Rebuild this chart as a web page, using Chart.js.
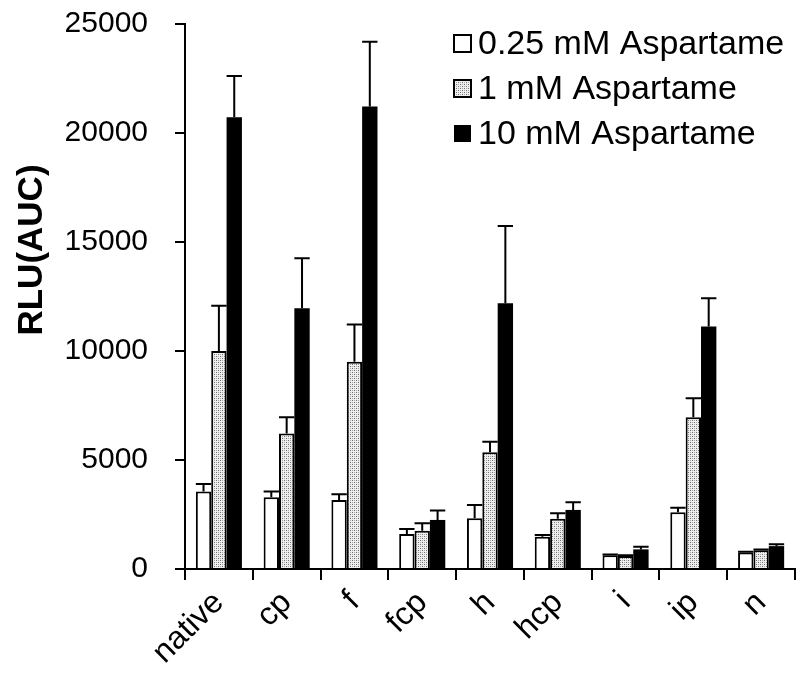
<!DOCTYPE html>
<html>
<head>
<meta charset="utf-8">
<title>RLU(AUC)</title>
<script src="https://cdn.jsdelivr.net/npm/chart.js@4.4.1/dist/chart.umd.min.js"></script>
<style>
    body { margin: 0; background: #fff; }
    canvas { display: block; }
</style>
</head>
<body>
<canvas id="myChart" width="801" height="688"></canvas>
<script>
const categories = ['native', 'cp', 'f', 'fcp', 'h', 'hcp', 'i', 'ip', 'n'];
const seriesNames = ['0.25 mM Aspartame', '1 mM Aspartame', '10 mM Aspartame'];

const lowDose = [3550, 3290, 3170, 1610, 2330, 1480, 630, 2600, 760];
const lowErr = [350, 260, 260, 230, 610, 80, 40, 210, 30];
const midDose = [10000, 6210, 9510, 1760, 5350, 2310, 600, 6960, 860];
const midErr = [2080, 750, 1700, 340, 490, 250, 30, 870, 40];
const highDose = [20720, 11960, 21210, 2250, 12190, 2710, 900, 11120, 1050];
const highErr = [1900, 2290, 2980, 430, 3540, 350, 120, 1300, 90];

const yTicks = [0, 5000, 10000, 15000, 20000, 25000];
const errors = [lowErr, midErr, highErr];

Chart.defaults.font.family = '"Liberation Sans", Arial, sans-serif';
Chart.defaults.color = '#000';

// stippled grey fill for the middle series
function dotPattern() {
    const c = document.createElement('canvas');
    c.width = 4;
    c.height = 4;
    const g = c.getContext('2d');
    g.fillStyle = '#eeeeee';
    g.fillRect(0, 0, 4, 4);
    g.fillStyle = '#6e6e6e';
    g.fillRect(0, 0, 1, 1);
    g.fillRect(2, 2, 1, 1);
    g.fillStyle = '#a8a8a8';
    g.fillRect(2, 0, 1, 1);
    g.fillRect(0, 2, 1, 1);
    return g.createPattern(c, 'repeat');
}
const dots = dotPattern();

// upward error bars with a cap as wide as the bar
const errorBars = {
    id: 'errorBars',
    afterDatasetsDraw(chart) {
        const ctx = chart.ctx;
        const y = chart.scales.y;
        ctx.save();
        ctx.strokeStyle = '#000';
        ctx.lineWidth = 2;
        chart.data.datasets.forEach((ds, i) => {
            chart.getDatasetMeta(i).data.forEach((bar, j) => {
                const top = y.getPixelForValue(ds.data[j] + errors[i][j]);
                const half = bar.width / 2;
                ctx.beginPath();
                ctx.moveTo(bar.x, bar.y);
                ctx.lineTo(bar.x, top);
                ctx.moveTo(bar.x - half, top);
                ctx.lineTo(bar.x + half, top);
                ctx.stroke();
            });
        });
        ctx.restore();
    }
};

// legend stacked in the top right corner of the plot
const legendBox = {
    id: 'legendBox',
    afterDraw(chart) {
        const ctx = chart.ctx;
        const area = chart.chartArea;
        ctx.save();
        ctx.font = '34px "Liberation Sans", Arial, sans-serif';
        ctx.textBaseline = 'middle';
        chart.data.datasets.forEach((ds, i) => {
            const x = area.left + 269;
            const cy = area.top + 20 + i * 45;
            ctx.fillStyle = ds.backgroundColor;
            ctx.fillRect(x, cy - 9, 17, 17);
            if (ds.borderWidth) {
                ctx.strokeStyle = '#000';
                ctx.lineWidth = 2;
                ctx.strokeRect(x, cy - 9, 17, 17);
            }
            ctx.fillStyle = '#000';
            ctx.fillText(ds.label, x + 24, cy + 1);
        });
        ctx.restore();
    }
};

// y axis title, sits a little above the middle of the axis
const yTitle = {
    id: 'yTitle',
    afterDraw(chart) {
        const ctx = chart.ctx;
        ctx.save();
        ctx.translate(32, 250);
        ctx.rotate(-Math.PI / 2);
        ctx.font = 'bold 35px "Liberation Sans", Arial, sans-serif';
        ctx.textAlign = 'center';
        ctx.textBaseline = 'middle';
        ctx.fillStyle = '#000';
        ctx.fillText('RLU(AUC)', 0, 0);
        ctx.restore();
    }
};

const ctx = document.getElementById('myChart').getContext('2d');

new Chart(ctx, {
    type: 'bar',
    data: {
        labels: categories,
        datasets: [
            {
                label: seriesNames[0],
                data: lowDose,
                backgroundColor: '#ffffff',
                borderColor: '#000',
                borderWidth: 2
            },
            {
                label: seriesNames[1],
                data: midDose,
                backgroundColor: dots,
                borderColor: '#000',
                borderWidth: 2
            },
            {
                label: seriesNames[2],
                data: highDose,
                backgroundColor: '#000000',
                borderColor: '#000',
                borderWidth: 0
            }
        ]
    },
    options: {
        responsive: false,
        animation: false,
        devicePixelRatio: 1,
        categoryPercentage: 0.68,
        barPercentage: 1.0,
        layout: {
            padding: { top: 24, right: 6, left: 0, bottom: 0 }
        },
        plugins: {
            legend: { display: false },
            tooltip: { enabled: false }
        },
        scales: {
            x: {
                grid: {
                    offset: true,
                    drawOnChartArea: false,
                    tickLength: 11,
                    color: '#000',
                    lineWidth: 2
                },
                border: { color: '#000', width: 2 },
                ticks: {
                    minRotation: 45,
                    maxRotation: 45,
                    padding: 4,
                    font: { size: 32 }
                },
                afterFit(scale) {
                    scale.height = 119;
                }
            },
            y: {
                min: yTicks[0],
                max: yTicks[yTicks.length - 1],
                afterBuildTicks(scale) {
                    scale.ticks = yTicks.map(v => ({ value: v }));
                },
                grid: {
                    drawOnChartArea: false,
                    tickLength: 10,
                    color: '#000',
                    lineWidth: 2
                },
                border: { color: '#000', width: 2 },
                ticks: {
                    padding: 27,
                    font: { size: 30 },
                    callback: v => String(v)
                },
                afterFit(scale) {
                    scale.width = 185;
                    scale.paddingTop = 0;
                }
            }
        }
    },
    plugins: [errorBars, legendBox, yTitle]
});
</script>
</body>
</html>
